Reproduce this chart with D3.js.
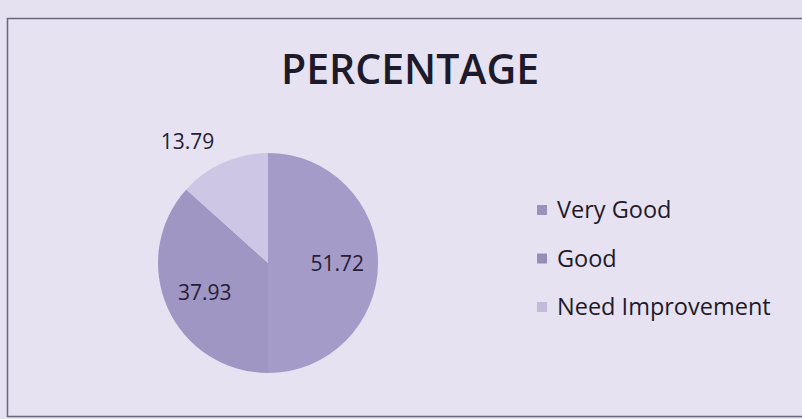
<!DOCTYPE html>
<html>
<head>
<meta charset="utf-8">
<script src="https://cdn.jsdelivr.net/npm/d3@7/dist/d3.min.js"></script>
<style>
  html, body { margin: 0; padding: 0; background: #e6e1f1; }
  svg { display: block; }
</style>
</head>
<body>
<script>
// Survey result categories and their percentages
const categories = ["Very Good", "Good", "Need Improvement"];
const values = [51.72, 37.93, 13.79];
const sliceColors = ["#a59bc8", "#a096c3", "#cdc6e4"];
const legendColors = ["#9b91bb", "#978eb7", "#c2bad9"];
const chartTitle = "PERCENTAGE";

const W = 802, H = 419;
const svg = d3.select("body").append("svg").attr("width", W).attr("height", H);

// paper background and chart frame
svg.append("rect").attr("width", W).attr("height", H).attr("fill", "#e6e1f1");
svg.append("rect")
  .attr("x", 7.5).attr("y", 18.5).attr("width", 820).attr("height", 398)
  .attr("fill", "#e7e2f2").attr("stroke", "#6a6578").attr("stroke-width", 1.5);

// title
svg.append("text")
  .attr("x", 410).attr("y", 84)
  .attr("text-anchor", "middle")
  .attr("font-family", "Open Sans")
  .attr("font-weight", 600)
  .attr("font-size", 41)
  .attr("fill", "#1d1a2c")
  .text(chartTitle);

const cx = 268, cy = 263, r = 110;
const data = categories.map((c, i) => ({ name: c, value: values[i], color: sliceColors[i], legend: legendColors[i] }));

const pie = d3.pie().value(d => d.value).sort(null);
const arcs = pie(data);
const arc = d3.arc().innerRadius(0).outerRadius(r);
const labelArc = d3.arc().innerRadius(r * 0.63).outerRadius(r * 0.63);

const g = svg.append("g").attr("transform", `translate(${cx},${cy})`);

g.selectAll("path.slice")
  .data(arcs)
  .join("path")
  .attr("class", "slice")
  .attr("d", arc)
  .attr("fill", d => d.data.color);

// value labels: inside for large slices, outside-end for the small one
const fontFam = "Open Sans";
arcs.forEach(a => {
  const span = a.endAngle - a.startAngle;
  if (span > 1.2) {
    const [x, y] = labelArc.centroid(a);
    g.append("text")
      .attr("x", x).attr("y", y)
      .attr("dy", "0.4em")
      .attr("text-anchor", "middle")
      .attr("font-family", fontFam)
      .attr("font-size", 21)
      .attr("fill", "#24203a")
      .text(a.data.value.toFixed(2));
  } else {
    const mid = (a.startAngle + a.endAngle) / 2;
    const rr = r + 10;
    const x = Math.sin(mid) * rr, y = -Math.cos(mid) * rr;
    g.append("text")
      .attr("x", x - 5).attr("y", y - 4)
      .attr("text-anchor", x < 0 ? "end" : "start")
      .attr("font-family", fontFam)
      .attr("font-size", 21)
      .attr("fill", "#24203a")
      .text(a.data.value.toFixed(2));
  }
});

// legend
const legend = svg.append("g").attr("transform", "translate(537,210)");
const rowStep = 48.5;
const items = legend.selectAll("g.item")
  .data(data)
  .join("g")
  .attr("class", "item")
  .attr("transform", (d, i) => `translate(0,${i * rowStep})`);
items.append("rect")
  .attr("x", 0).attr("y", -5).attr("width", 10).attr("height", 10)
  .attr("fill", d => d.legend);
items.append("text")
  .attr("x", 20).attr("y", 0).attr("dy", "0.36em")
  .attr("font-family", fontFam)
  .attr("font-size", 23.5)
  .attr("fill", "#1d1a2c")
  .text(d => d.name);
</script>
</body>
</html>
